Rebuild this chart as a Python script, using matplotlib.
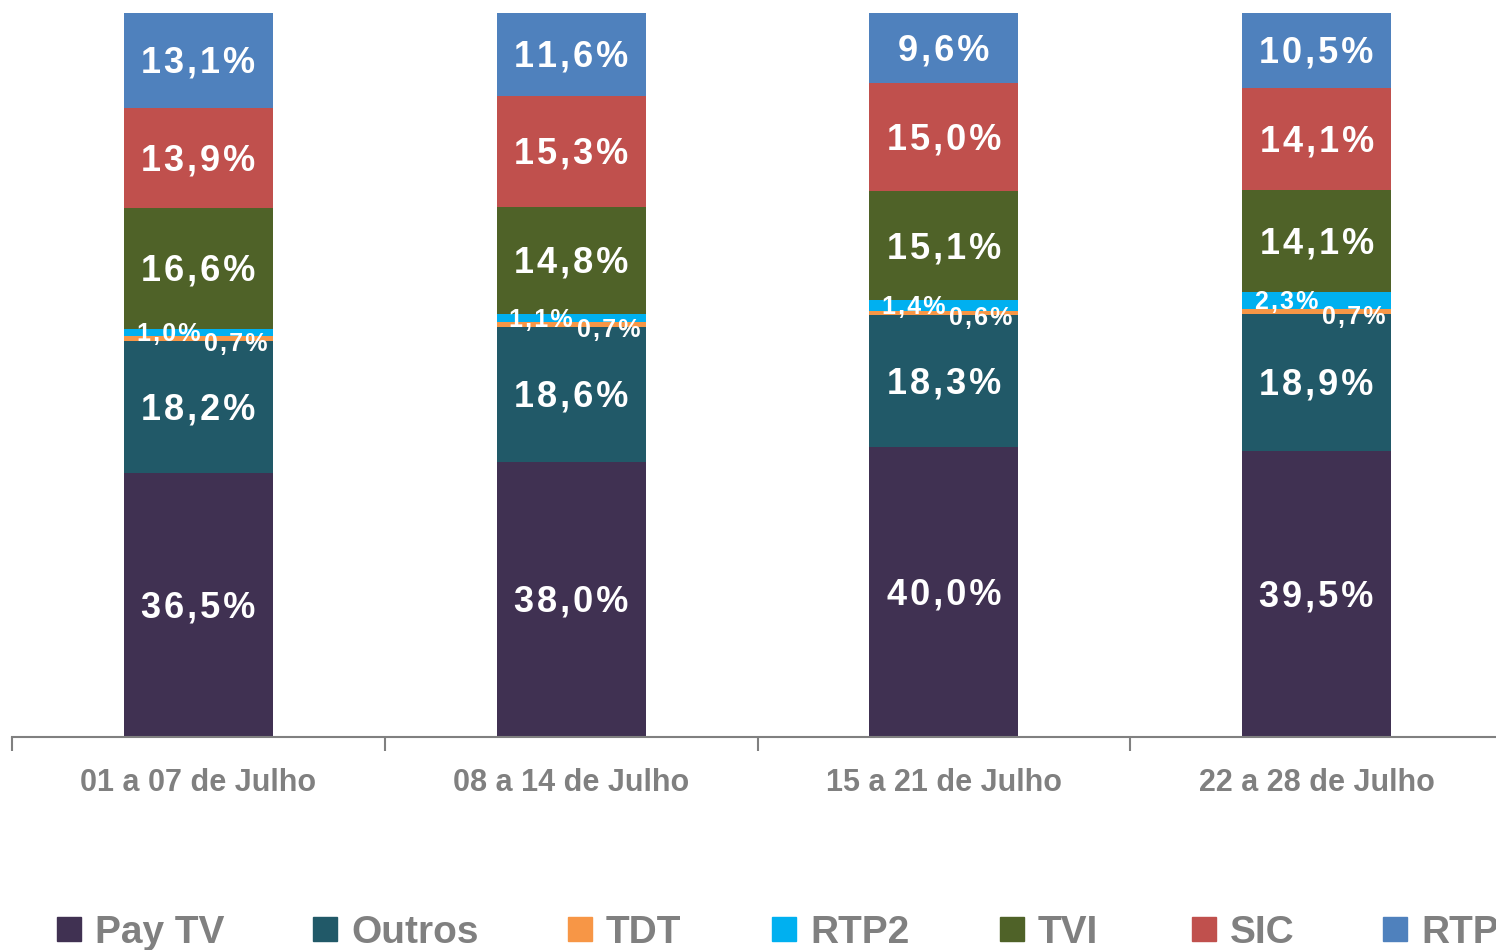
import matplotlib
matplotlib.use("Agg")
import matplotlib.pyplot as plt
import numpy as np

categories = ["01 a 07 de Julho", "08 a 14 de Julho", "15 a 21 de Julho", "22 a 28 de Julho"]
series_names = ["Pay TV", "Outros", "TDT", "RTP2", "TVI", "SIC", "RTP"]
pay_tv = [36.5, 38.0, 40.0, 39.5]
outros = [18.2, 18.6, 18.3, 18.9]
tdt = [0.7, 0.7, 0.6, 0.7]
rtp2 = [1.0, 1.1, 1.4, 2.3]
tvi = [16.6, 14.8, 15.1, 14.1]
sic = [13.9, 15.3, 15.0, 14.1]
rtp = [13.1, 11.6, 9.6, 10.5]
colors = ["#403152", "#215968", "#F79646", "#00B0F0", "#4F6228", "#C0504D", "#4F81BD"]

series = [pay_tv, outros, tdt, rtp2, tvi, sic, rtp]

plt.rcParams['font.family'] = ['Liberation Sans', 'DejaVu Sans']

W, H = 1496, 950
fig = plt.figure(figsize=(W / 100, H / 100), dpi=100)
left_px, right_px = 12, 1503
top_px, bot_px = 13, 737
ax = fig.add_axes([left_px / W, 1 - bot_px / H, (right_px - left_px) / W, (bot_px - top_px) / H])

x = np.arange(len(categories))
width = 0.40
bottom = np.zeros(len(categories))

HS = "\u200a"

def fmt(v):
    return HS.join(f"{v:.1f}%".replace(".", ","))

for i, (vals, col) in enumerate(zip(series, colors)):
    vals = np.array(vals)
    ax.bar(x, vals, width, bottom=bottom, color=col, edgecolor="none", zorder=2)
    for j in range(len(categories)):
        yc = bottom[j] + vals[j] / 2
        if series_names[i] == "TDT":
            ax.annotate(fmt(vals[j]), (x[j] + 0.10, yc), xytext=(0, -4), textcoords="offset points",
                        ha="center", va="center", color="white", fontsize=18, fontweight="bold", zorder=4)
        elif series_names[i] == "RTP2":
            ax.annotate(fmt(vals[j]), (x[j] - 0.08, yc), xytext=(0, -1), textcoords="offset points",
                        ha="center", va="center", color="white", fontsize=18, fontweight="bold", zorder=3)
        else:
            ax.annotate(fmt(vals[j]), (x[j], yc), xytext=(0, -2), textcoords="offset points",
                        ha="center", va="center", color="white",
                        fontsize=26, fontweight="bold", zorder=3)
    bottom += vals

ax.set_xlim(-0.5, 3.5)
ax.set_ylim(0, 100)
for s in ["top", "right", "left"]:
    ax.spines[s].set_visible(False)
ax.spines["bottom"].set_color("#808080")
ax.spines["bottom"].set_linewidth(1.5)
ax.set_yticks([])
ax.set_xticks(x)
ax.set_xticklabels(categories, fontsize=22, fontweight="bold", color="#808080")
ax.tick_params(axis="x", which="major", length=0, pad=22)
ax.set_xticks(np.arange(-0.5, 3.6, 1.0), minor=True)
ax.tick_params(axis="x", which="minor", length=10, width=1.5, color="#808080")

# legend
leg_x = [57, 313, 568, 772, 1000, 1192, 1383]
leg_y = 929
sq = 24
for name, col, lx in zip(series_names, colors, leg_x):
    fig.patches.append(plt.Rectangle((lx / W, 1 - (leg_y + sq / 2) / H), sq / W, sq / H,
                                     transform=fig.transFigure, color=col, figure=fig))
    fig.text((lx + sq + 14) / W, 1 - 943 / H, name, ha="left", va="baseline",
             fontsize=28, fontweight="bold", color="#808080")

fig.savefig("out.png", dpi=100)
